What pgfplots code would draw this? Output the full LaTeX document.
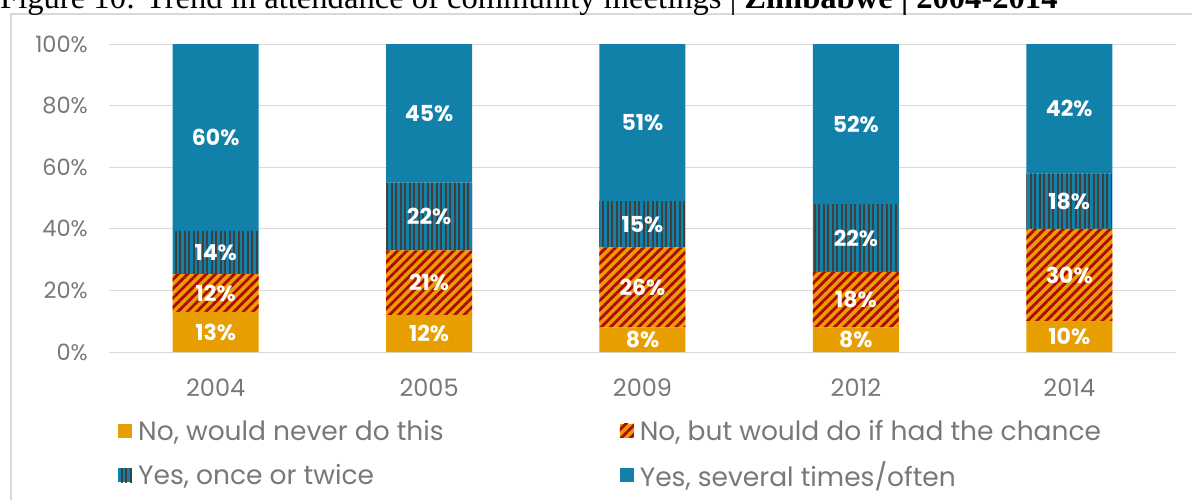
\documentclass[border=0pt]{standalone}
\usepackage{fontspec}
\setmainfont{Liberation Serif}
\newfontfamily\gothic{Poppins}
\usepackage{pgfplots}
\pgfplotsset{compat=1.18}
\usetikzlibrary{patterns.meta}
\definecolor{cOrange}{RGB}{230,158,0}
\definecolor{cRed}{RGB}{178,8,8}
\definecolor{cBlue}{RGB}{17,129,170}
\definecolor{cDark}{RGB}{64,64,64}
\definecolor{cGrid}{RGB}{217,217,217}
\definecolor{cText}{RGB}{120,120,120}
\begin{document}
\begin{tikzpicture}[x=1pt,y=1pt]
\useasboundingbox (0,0) rectangle (1192,499);
\clip (0,0) rectangle (1192,499);
\draw[cGrid, line width=1.5pt] (11,-10) -- (11,485) -- (1200,485);
\node[anchor=base west, inner sep=0pt, font=\fontsize{32.6}{36}\selectfont] at (0,490) {Figure 10: Trend in attendance of community meetings | \textbf{Zimbabwe | 2004-2014}};
\begin{axis}[
  at={(109pt,147pt)}, anchor=south west,
  scale only axis, width=1067pt, height=308pt,
  xmin=-0.5, xmax=4.5, ymin=0, ymax=100,
  ybar stacked, bar width=86pt,
  axis line style={draw=none},
  major tick style={draw=none},
  ymajorgrids, grid style={cGrid, line width=1pt},
  ytick={0,20,...,100},
  yticklabel={\pgfmathprintnumber{\tick}\%},
  xtick={0,...,4},
  xticklabels={2004,2005,2009,2012,2014},
  /pgf/number format/assume math mode=true,
  yticklabel style={font=\gothic\fontsize{22.5}{26}\selectfont, text=cText, anchor=east, inner sep=0pt, xshift=-21pt},
  xticklabel style={font=\gothic\fontsize{24}{28}\selectfont, text=cText, anchor=north, inner sep=0pt, yshift=-27pt},
  legend columns=2,
  legend cell align=left,
  legend style={draw=none, fill=none, at={(0.0084,-0.214)}, anchor=north west,
    font=\gothic\fontsize{26.5}{30}\selectfont, text=cText, inner sep=0pt, row sep=16pt,
    /tikz/every even column/.append style={column sep=174pt}},
  legend image code/.code={\path[#1] (0pt,-7pt) rectangle (14pt,7pt); \path (18pt,0pt);},
]
\addplot[fill=cOrange, draw=none] coordinates {(0,13) (1,12) (2,8) (3,8) (4,10)};
\addplot[fill=cOrange, draw=none, postaction={pattern={Lines[angle=45,distance=6.6pt,line width=2.8pt]}, pattern color=cRed}] coordinates {(0,12.3) (1,21) (2,26) (3,18) (4,30)};
\addplot[fill=cBlue, draw=none, postaction={pattern={Lines[angle=90,distance=4.5pt,line width=2pt]}, pattern color=cDark}] coordinates {(0,14) (1,22) (2,15) (3,22) (4,18)};
\addplot[fill=cBlue, draw=none] coordinates {(0,60.7) (1,45) (2,51) (3,52) (4,42)};
\legend{{No, would never do this}, {No, but would do if had the chance}, {Yes, once or twice}, {Yes, several times/often}}
\end{axis}
\begin{axis}[
  at={(109pt,147pt)}, anchor=south west,
  scale only axis, width=1067pt, height=308pt,
  xmin=-0.5, xmax=4.5, ymin=0, ymax=100,
  hide axis, clip=false,
]
\addplot[draw=none, mark=none, nodes near coords, point meta=explicit symbolic,
  nodes near coords align={center},
  every node near coord/.append style={font=\gothic\bfseries\fontsize{22}{26}\selectfont, text=white, inner sep=0pt}]
  coordinates {
  (0,6.5) [13\%] (0,19) [12\%] (0,32.3) [14\%] (0,69.7) [60\%]
  (1,6) [12\%] (1,22.5) [21\%] (1,44) [22\%] (1,77.5) [45\%]
  (2,4) [8\%] (2,21) [26\%] (2,41.5) [15\%] (2,74.5) [51\%]
  (3,4) [8\%] (3,17) [18\%] (3,37) [22\%] (3,74) [52\%]
  (4,5) [10\%] (4,25) [30\%] (4,49) [18\%] (4,79) [42\%]
  };
\end{axis}
\end{tikzpicture}
\end{document}
